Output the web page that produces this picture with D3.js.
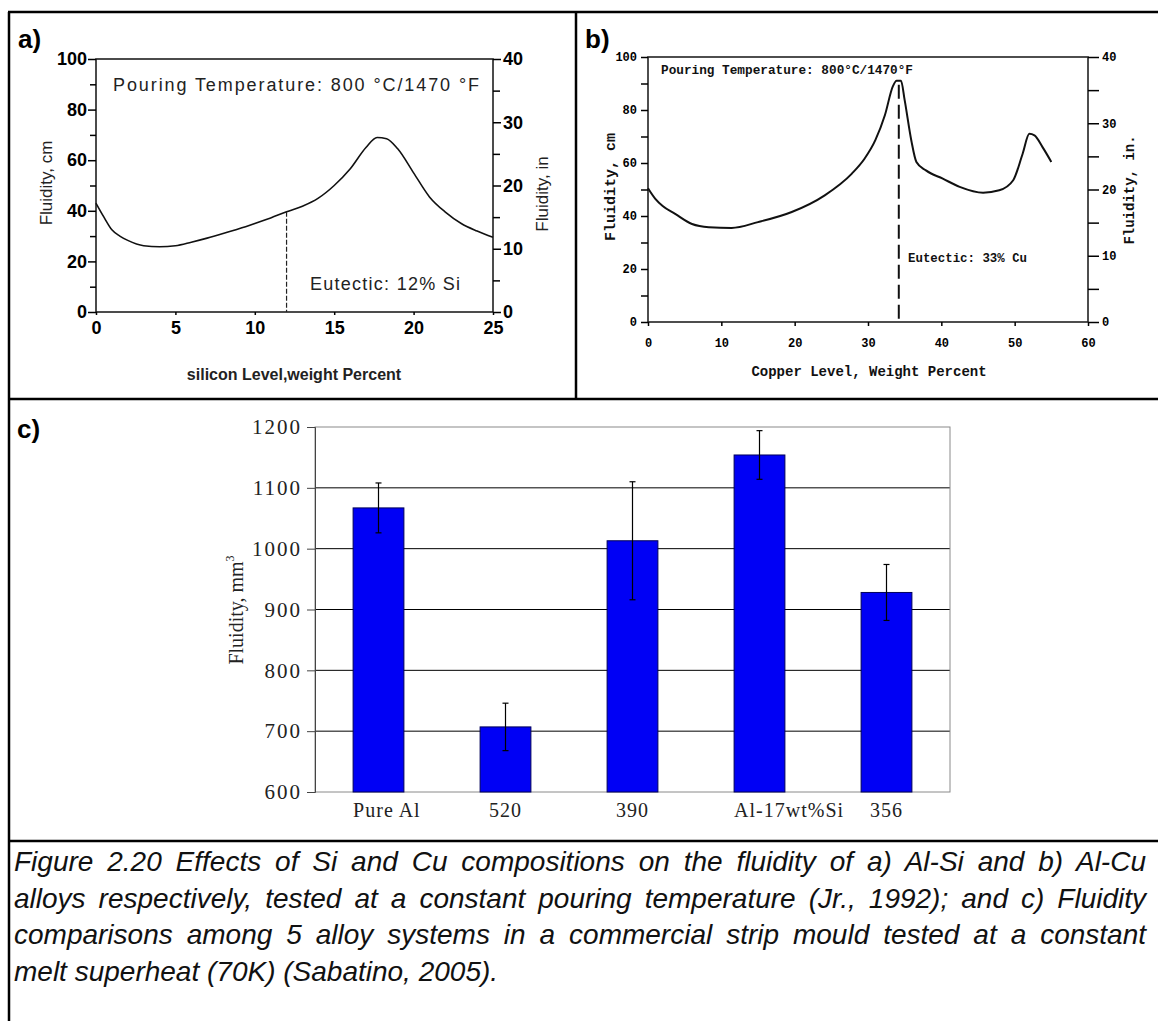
<!DOCTYPE html>
<html>
<head>
<meta charset="utf-8">
<script src="https://cdn.jsdelivr.net/npm/d3@7"></script>
<style>
  body { margin: 0; background: #fff; }
  .sans { font-family: "Liberation Sans", Arial, sans-serif; }
  .mono { font-family: "Liberation Mono", "Courier New", monospace; font-weight: bold; }
</style>
</head>
<body>
<div id="chart"></div>
<script>
// a) Al-Si fluidity curve (cm)
const siLevel    = [0, 0.5, 1, 1.5, 2, 3, 4, 5, 6, 7, 8, 9, 10, 11, 12, 13, 14, 15, 16, 17, 17.7, 18.3, 19, 20, 21, 22, 23, 24, 25];
const siFluidity = [43, 37.5, 32.5, 30, 28.3, 26.2, 25.8, 26.2, 27.6, 29.2, 31, 32.9, 35, 37.2, 39.6, 41.8, 45, 50, 56.5, 65, 69, 68.5, 64.5, 55, 45.5, 39.5, 35, 32, 29.5];
const siEutectic = 12;

// b) Al-Cu fluidity curve (cm)
const cuLevel    = [0, 1, 2, 3.7, 6, 8.3, 11.4, 15, 19.6, 24.1, 27.8, 29.5, 31, 32.3, 33.4, 33.9, 34.5, 35, 35.9, 36.6, 37.9, 40.2, 42.5, 45.7, 47.9, 49.8, 51.1, 52, 52.7, 53.8, 55];
const cuFluidity = [50.5, 46.5, 43.8, 40.8, 37, 35.8, 35.5, 37.7, 41.5, 47.8, 56, 61.5, 68.6, 78, 89, 91, 91, 83.7, 68.6, 60.4, 57.2, 54.1, 51, 48.8, 49.7, 53.5, 63.6, 71, 70.4, 66, 60.4];
const cuEutectic = 34.2;

// c) fluidity of 5 alloys (mm^3) with error bars
const alloys        = ["Pure Al", "520", "390", "Al-17wt%Si", "356"];
const alloyFluidity = [1067, 707, 1013, 1154, 928];
const alloyError    = [41, 39, 97, 40, 46];
const cTicks        = [600, 700, 800, 900, 1000, 1100, 1200];

const captionLines = [
  "Figure 2.20 Effects of Si and Cu compositions on the fluidity of a) Al-Si and b) Al-Cu",
  "alloys respectively, tested at a constant pouring temperature (Jr., 1992); and c) Fluidity",
  "comparisons among 5 alloy systems in a commercial strip mould tested at a constant",
  "melt superheat (70K) (Sabatino, 2005)."
];

const W = 1158, H = 1021;
const svg = d3.select('#chart').append('svg')
    .attr('width', W)
    .attr('height', H);

svg.append('rect').attr('width', W).attr('height', H).attr('fill', '#fff');

// ---- frame of the figure table
const frame = svg.append('g').attr('stroke', '#000').attr('stroke-width', 2.5);
frame.append('line').attr('x1', 8).attr('x2', W).attr('y1', 12).attr('y2', 12);
frame.append('line').attr('x1', 9).attr('x2', 9).attr('y1', 12).attr('y2', H);
frame.append('line').attr('x1', 8).attr('x2', W).attr('y1', 399).attr('y2', 399);
frame.append('line').attr('x1', 576).attr('x2', 576).attr('y1', 12).attr('y2', 399);
frame.append('line').attr('x1', 8).attr('x2', W).attr('y1', 841).attr('y2', 841);

svg.selectAll('.plabel')
  .data([['a)', 18, 48], ['b)', 585, 48], ['c)', 17, 438]])
  .enter().append('text')
    .attr('class', 'sans')
    .attr('x', d => d[1])
    .attr('y', d => d[2])
    .attr('font-size', 26)
    .attr('font-weight', 'bold')
    .text(d => d[0]);

// helper: strip axis domain, style ticks
function tidy(g, font, size, weight) {
  g.select('.domain').remove();
  g.selectAll('.tick line').attr('stroke', '#000').attr('stroke-width', 1.5);
  g.selectAll('.tick text').attr('font-family', font).attr('font-size', size)
    .attr('font-weight', weight).attr('fill', '#000');
}

// =============== panel a ===============
const ax = d3.scaleLinear().domain([0, 25]).range([96, 493]);
const ay = d3.scaleLinear().domain([0, 100]).range([312, 59]);
const ayIn = d3.scaleLinear().domain([0, 40]).range([312, 59]);
const sansNarrow = '"Liberation Sans Narrow", "Liberation Sans", Arial, sans-serif';

const pa = svg.append('g');
pa.append('rect')
    .attr('x', ax(0)).attr('y', ay(100))
    .attr('width', ax(25) - ax(0)).attr('height', ay(0) - ay(100))
    .attr('fill', 'none').attr('stroke', '#111').attr('stroke-width', 1.5);

pa.append('g').attr('transform', `translate(${ax(0)},0)`)
    .call(d3.axisLeft(ay).tickValues(d3.range(0, 101, 20)).tickSize(8).tickPadding(1))
    .call(g => tidy(g, sansNarrow, 18, 'bold'));
pa.append('g').attr('transform', `translate(${ax(0)},0)`)
    .call(d3.axisLeft(ay).tickValues(d3.range(10, 100, 20)).tickSize(6).tickFormat(''))
    .call(g => tidy(g, sansNarrow, 18, 'bold'));
pa.append('g').attr('transform', `translate(${ax(25)},0)`)
    .call(d3.axisRight(ayIn).tickValues(d3.range(0, 41, 10)).tickSize(8).tickPadding(2))
    .call(g => tidy(g, sansNarrow, 18, 'bold'));
pa.append('g').attr('transform', `translate(${ax(25)},0)`)
    .call(d3.axisRight(ayIn).tickValues(d3.range(5, 40, 10)).tickSize(7).tickFormat(''))
    .call(g => tidy(g, sansNarrow, 18, 'bold'));
pa.append('g').attr('transform', `translate(0,${ay(0)})`)
    .call(d3.axisBottom(ax).tickValues(d3.range(0, 26, 5)).tickSize(3).tickPadding(6))
    .call(g => tidy(g, sansNarrow, 18, 'bold'));

pa.append('path')
    .datum(siLevel.map((x, i) => [x, siFluidity[i]]))
    .attr('fill', 'none').attr('stroke', '#111').attr('stroke-width', 1.6)
    .attr('d', d3.line().x(d => ax(d[0])).y(d => ay(d[1])).curve(d3.curveMonotoneX));

const siAt = siFluidity[siLevel.indexOf(siEutectic)];
pa.append('line')
    .attr('x1', ax(siEutectic)).attr('x2', ax(siEutectic))
    .attr('y1', ay(siAt)).attr('y2', ay(0))
    .attr('stroke', '#222').attr('stroke-width', 1.2).attr('stroke-dasharray', '5,2');

pa.append('text').attr('class', 'sans')
    .attr('x', 113).attr('y', 91).attr('font-size', 18).attr('fill', '#222')
    .attr('textLength', 366).attr('lengthAdjust', 'spacing')
    .text('Pouring Temperature: 800 °C/1470 °F');
pa.append('text').attr('class', 'sans')
    .attr('x', 310).attr('y', 290).attr('font-size', 18).attr('fill', '#222')
    .attr('textLength', 150).attr('lengthAdjust', 'spacing')
    .text('Eutectic: 12% Si');
pa.append('text').attr('class', 'sans')
    .attr('transform', 'translate(52,183) rotate(-90)')
    .attr('text-anchor', 'middle').attr('font-size', 17).attr('fill', '#222')
    .text('Fluidity, cm');
pa.append('text').attr('class', 'sans')
    .attr('transform', 'translate(548,194) rotate(-90)')
    .attr('text-anchor', 'middle').attr('font-size', 17).attr('fill', '#222')
    .text('Fluidity, in');
pa.append('text').attr('class', 'sans')
    .attr('x', 294).attr('y', 380).attr('text-anchor', 'middle')
    .attr('font-size', 16).attr('font-weight', 'bold').attr('fill', '#222')
    .text('silicon Level,weight Percent');

// =============== panel b ===============
const bx = d3.scaleLinear().domain([0, 60]).range([648, 1088]);
const by = d3.scaleLinear().domain([0, 100]).range([322, 57]);
const byIn = d3.scaleLinear().domain([0, 40]).range([322, 57]);
const monoFont = '"Liberation Mono", "Courier New", monospace';

const pb = svg.append('g');
pb.append('rect')
    .attr('x', bx(0)).attr('y', by(100))
    .attr('width', bx(60) - bx(0)).attr('height', by(0) - by(100))
    .attr('fill', 'none').attr('stroke', '#222').attr('stroke-width', 1.6);

pb.append('g').attr('transform', `translate(${bx(0)},0)`)
    .call(d3.axisLeft(by).tickValues(d3.range(0, 101, 20)).tickSize(7).tickPadding(4))
    .call(g => tidy(g, monoFont, 12, 'bold'));
pb.append('g').attr('transform', `translate(${bx(0)},0)`)
    .call(d3.axisLeft(by).tickValues(d3.range(10, 100, 20)).tickSize(7).tickFormat(''))
    .call(g => tidy(g, monoFont, 12, 'bold'));
pb.append('g').attr('transform', `translate(${bx(60)},0)`)
    .call(d3.axisRight(byIn).tickValues(d3.range(0, 41, 10)).tickSize(11).tickPadding(3))
    .call(g => tidy(g, monoFont, 12, 'bold'));
pb.append('g').attr('transform', `translate(${bx(60)},0)`)
    .call(d3.axisRight(byIn).tickValues(d3.range(5, 40, 10)).tickSize(11).tickFormat(''))
    .call(g => tidy(g, monoFont, 12, 'bold'));
pb.append('g').attr('transform', `translate(0,${by(0)})`)
    .call(d3.axisBottom(bx).tickValues(d3.range(0, 61, 10)).tickSize(4).tickPadding(12))
    .call(g => tidy(g, monoFont, 12, 'bold'));

pb.append('path')
    .datum(cuLevel.map((x, i) => [x, cuFluidity[i]]))
    .attr('fill', 'none').attr('stroke', '#111').attr('stroke-width', 2)
    .attr('d', d3.line().x(d => bx(d[0])).y(d => by(d[1])).curve(d3.curveMonotoneX));

pb.append('line')
    .attr('x1', bx(cuEutectic)).attr('x2', bx(cuEutectic))
    .attr('y1', by(d3.max(cuFluidity)) + 4).attr('y2', by(0))
    .attr('stroke', '#111').attr('stroke-width', 2).attr('stroke-dasharray', '14,6');

pb.append('text').attr('class', 'mono')
    .attr('x', 661).attr('y', 74).attr('font-size', 12).attr('fill', '#111')
    .attr('textLength', 252).attr('lengthAdjust', 'spacingAndGlyphs')
    .text('Pouring Temperature:  800°C/1470°F');
pb.append('text').attr('class', 'mono')
    .attr('x', 908).attr('y', 262).attr('font-size', 12).attr('fill', '#111')
    .attr('textLength', 119).attr('lengthAdjust', 'spacingAndGlyphs')
    .text('Eutectic:  33% Cu');
pb.append('text').attr('class', 'mono')
    .attr('transform', 'translate(615,187) rotate(-90)')
    .attr('text-anchor', 'middle').attr('font-size', 15).attr('fill', '#111')
    .text('Fluidity, cm');
pb.append('text').attr('class', 'mono')
    .attr('transform', 'translate(1134,190) rotate(-90)')
    .attr('text-anchor', 'middle').attr('font-size', 14).attr('fill', '#111')
    .text('Fluidity, in.');
pb.append('text').attr('class', 'mono')
    .attr('x', 869).attr('y', 376).attr('text-anchor', 'middle')
    .attr('font-size', 14).attr('fill', '#111')
    .text('Copper Level, Weight Percent');

// =============== panel c ===============
const cLeft = 315, cRight = 950;
const cx = d3.scaleBand().domain(alloys).range([cLeft, cRight]).paddingInner(0.6).paddingOuter(0.3);
const cy = d3.scaleLinear().domain([600, 1200]).range([792, 427]);
const serifFont = '"Liberation Serif", "Times New Roman", serif';

const pc = svg.append('g');
pc.append('g').selectAll('line')
  .data(cTicks.slice(1, -1))
  .enter().append('line')
    .attr('x1', cLeft).attr('x2', cRight)
    .attr('y1', d => cy(d)).attr('y2', d => cy(d))
    .attr('stroke', '#000').attr('stroke-width', 1);
pc.append('rect')
    .attr('x', cLeft).attr('y', cy(1200))
    .attr('width', cRight - cLeft).attr('height', cy(600) - cy(1200))
    .attr('fill', 'none').attr('stroke', '#8a8a8a').attr('stroke-width', 1);

pc.append('g').attr('transform', `translate(${cLeft},0)`)
    .call(d3.axisLeft(cy).tickValues(cTicks).tickSize(8).tickPadding(5).tickFormat(d3.format('d')))
    .call(g => {
      g.select('.domain').attr('stroke', '#444');
      g.selectAll('.tick line').attr('stroke', '#444');
      g.selectAll('.tick text').attr('font-family', serifFont).attr('font-size', 21)
        .attr('letter-spacing', 2).attr('fill', '#222');
    });

pc.selectAll('.bar')
  .data(alloys)
  .enter().append('rect')
    .attr('x', d => cx(d))
    .attr('y', (d, i) => cy(alloyFluidity[i]))
    .attr('width', cx.bandwidth())
    .attr('height', (d, i) => cy(600) - cy(alloyFluidity[i]))
    .attr('fill', '#0000f5').attr('stroke', '#00005a').attr('stroke-width', 1);

const err = pc.selectAll('.err')
  .data(alloys)
  .enter().append('g')
    .attr('stroke', '#000').attr('stroke-width', 1.2);
err.append('line')
    .attr('x1', d => cx(d) + cx.bandwidth() / 2).attr('x2', d => cx(d) + cx.bandwidth() / 2)
    .attr('y1', (d, i) => cy(alloyFluidity[i] + alloyError[i]))
    .attr('y2', (d, i) => cy(alloyFluidity[i] - alloyError[i]));
[1, -1].forEach(s => {
  err.append('line')
      .attr('x1', d => cx(d) + cx.bandwidth() / 2 - 3).attr('x2', d => cx(d) + cx.bandwidth() / 2 + 3)
      .attr('y1', (d, i) => cy(alloyFluidity[i] + s * alloyError[i]))
      .attr('y2', (d, i) => cy(alloyFluidity[i] + s * alloyError[i]));
});

// category labels: narrow ones centred, wide ones start at the bar's left edge
pc.append('g').selectAll('text')
  .data(alloys)
  .enter().append('text')
    .attr('y', cy(600) + 25)
    .attr('font-family', serifFont).attr('font-size', 20)
    .attr('letter-spacing', 1).attr('fill', '#222')
    .text(d => d)
    .each(function(d) {
      const t = d3.select(this);
      const w = this.getComputedTextLength();
      if (w > cx.bandwidth()) t.attr('x', cx(d));
      else t.attr('x', cx(d) + cx.bandwidth() / 2).attr('text-anchor', 'middle');
    });

const cTitle = pc.append('text')
    .attr('transform', 'translate(243,610) rotate(-90)')
    .attr('text-anchor', 'middle')
    .attr('font-family', serifFont).attr('font-size', 20).attr('fill', '#222');
cTitle.append('tspan').text('Fluidity, mm');
cTitle.append('tspan').attr('font-size', 12).attr('dy', -9).text('3');

// =============== caption ===============
const capLeft = 14, capRight = 1146;
const cap = svg.append('g')
    .attr('font-family', '"Liberation Sans", Arial, sans-serif')
    .attr('font-style', 'italic').attr('font-size', 28).attr('fill', '#111');
captionLines.forEach((line, i) => {
  const t = cap.append('text').attr('x', capLeft).attr('y', 871 + i * 36.7).text(line);
  if (i < captionLines.length - 1) {
    const natural = t.node().getComputedTextLength();
    const spaces = line.split(' ').length - 1;
    t.attr('word-spacing', (capRight - capLeft - natural) / spaces);
  }
});
</script>
</body>
</html>
